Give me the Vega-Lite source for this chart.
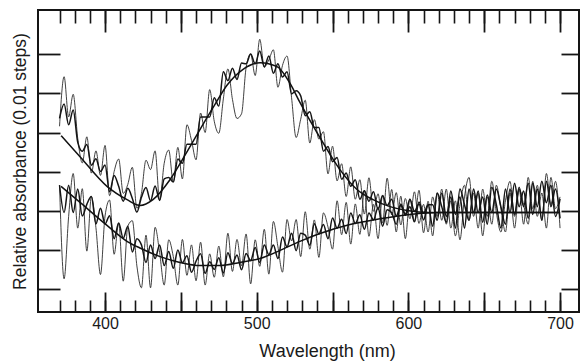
{
  "$schema": "https://vega.github.io/schema/vega-lite/v6.json",
  "width": 541,
  "height": 302,
  "autosize": {"type": "none"},
  "padding": {"left": 38, "top": 10, "right": 2, "bottom": 51},
  "background": "white",
  "config": {
    "view": {"stroke": "#151515", "strokeWidth": 2},
    "axis": {"grid": false, "domain": false, "labelFont": "Liberation Sans", "titleFont": "Liberation Sans", "tickColor": "#151515", "labelColor": "#1a1a1a", "titleColor": "#1a1a1a", "titleFontWeight": "normal"}
  },
  "datasets": {
    "traces": [
      {"x":370,"a":4.36,"b":4.16,"c":2.65,"d":2.65},
      {"x":373,"a":4.73,"b":5.43,"c":1.95,"d":0.25},
      {"x":376,"a":4.20,"b":4.40,"c":2.65,"d":1.85},
      {"x":379,"a":4.58,"b":4.98,"c":1.95,"d":2.95},
      {"x":382,"a":3.75,"b":3.85,"c":2.55,"d":1.55},
      {"x":385,"a":3.52,"b":3.22,"c":1.86,"d":2.56},
      {"x":388,"a":3.69,"b":3.89,"c":2.16,"d":0.96},
      {"x":391,"a":3.16,"b":2.96,"c":2.36,"d":2.36},
      {"x":394,"a":3.33,"b":3.53,"c":1.66,"d":1.56},
      {"x":397,"a":3.00,"b":2.90,"c":2.06,"d":0.36},
      {"x":400,"a":3.17,"b":3.67,"c":1.66,"d":1.86},
      {"x":403,"a":2.48,"b":2.38,"c":1.87,"d":2.27},
      {"x":406,"a":2.90,"b":3.00,"c":1.28,"d":0.88},
      {"x":409,"a":2.62,"b":3.32,"c":1.68,"d":1.68},
      {"x":412,"a":2.24,"b":2.44,"c":1.29,"d":0.19},
      {"x":415,"a":2.57,"b":2.67,"c":1.60,"d":1.60},
      {"x":418,"a":2.31,"b":3.11,"c":0.94,"d":1.74},
      {"x":421,"a":1.96,"b":2.06,"c":1.28,"d":0.58},
      {"x":424,"a":2.34,"b":2.44,"c":1.12,"d":0.02},
      {"x":427,"a":2.59,"b":3.29,"c":0.67,"d":1.37},
      {"x":430,"a":2.25,"b":3.05,"c":1.12,"d":0.02},
      {"x":433,"a":2.63,"b":3.53,"c":0.77,"d":1.57},
      {"x":436,"a":2.26,"b":2.26,"c":1.12,"d":0.92},
      {"x":439,"a":2.81,"b":3.21,"c":0.59,"d":0.09},
      {"x":442,"a":2.85,"b":3.55,"c":0.95,"d":1.25},
      {"x":445,"a":2.73,"b":2.73,"c":0.52,"d":0.82},
      {"x":448,"a":3.32,"b":3.62,"c":0.99,"d":0.09},
      {"x":451,"a":3.21,"b":2.81,"c":0.66,"d":1.26},
      {"x":454,"a":3.70,"b":4.20,"c":0.84,"d":0.34},
      {"x":457,"a":3.70,"b":3.80,"c":0.42,"d":1.12},
      {"x":460,"a":3.70,"b":3.30,"c":0.70,"d":0.20},
      {"x":463,"a":4.40,"b":4.50,"c":0.89,"d":1.19},
      {"x":466,"a":4.40,"b":4.00,"c":0.39,"d":0.09},
      {"x":469,"a":4.40,"b":5.10,"c":0.69,"d":0.89},
      {"x":472,"a":4.89,"b":4.29,"c":0.49,"d":0.29},
      {"x":475,"a":4.68,"b":3.98,"c":0.79,"d":1.09},
      {"x":478,"a":5.56,"b":4.86,"c":0.40,"d":0.30},
      {"x":481,"a":5.33,"b":5.63,"c":0.92,"d":1.42},
      {"x":484,"a":5.65,"b":4.85,"c":0.64,"d":0.44},
      {"x":487,"a":5.36,"b":4.36,"c":0.86,"d":1.26},
      {"x":490,"a":5.78,"b":4.48,"c":0.48,"d":0.58},
      {"x":493,"a":5.76,"b":5.66,"c":0.90,"d":1.40},
      {"x":496,"a":6.01,"b":6.01,"c":0.72,"d":0.12},
      {"x":499,"a":5.76,"b":5.46,"c":1.05,"d":1.25},
      {"x":502,"a":6.09,"b":6.39,"c":0.67,"d":0.57},
      {"x":505,"a":5.68,"b":5.68,"c":1.12,"d":1.52},
      {"x":508,"a":5.96,"b":5.86,"c":0.87,"d":0.37},
      {"x":511,"a":5.52,"b":6.12,"c":1.12,"d":1.72},
      {"x":514,"a":5.76,"b":5.16,"c":0.77,"d":1.07},
      {"x":517,"a":5.42,"b":5.72,"c":1.32,"d":0.42},
      {"x":520,"a":5.56,"b":5.96,"c":1.07,"d":1.77},
      {"x":523,"a":4.99,"b":4.89,"c":1.42,"d":1.22},
      {"x":526,"a":5.07,"b":3.87,"c":0.97,"d":1.77},
      {"x":529,"a":4.94,"b":4.34,"c":1.42,"d":0.82},
      {"x":532,"a":4.43,"b":4.83,"c":1.37,"d":1.97},
      {"x":535,"a":4.53,"b":3.73,"c":1.11,"d":1.01},
      {"x":538,"a":4.13,"b":4.33,"c":1.66,"d":1.76},
      {"x":541,"a":4.13,"b":3.83,"c":1.40,"d":0.80},
      {"x":544,"a":3.52,"b":4.02,"c":1.64,"d":1.94},
      {"x":547,"a":3.64,"b":2.94,"c":1.28,"d":1.58},
      {"x":550,"a":3.25,"b":3.65,"c":1.81,"d":1.01},
      {"x":553,"a":3.36,"b":2.76,"c":1.55,"d":2.25},
      {"x":556,"a":2.80,"b":3.20,"c":1.78,"d":1.38},
      {"x":559,"a":2.96,"b":2.36,"c":1.41,"d":2.21},
      {"x":562,"a":2.62,"b":3.12,"c":1.94,"d":1.14},
      {"x":565,"a":2.79,"b":2.29,"c":1.67,"d":2.17},
      {"x":568,"a":2.29,"b":2.79,"c":1.89,"d":1.39},
      {"x":571,"a":2.51,"b":1.91,"c":1.52,"d":2.52},
      {"x":574,"a":2.24,"b":2.84,"c":1.94,"d":1.34},
      {"x":577,"a":2.48,"b":1.98,"c":1.76,"d":2.16},
      {"x":580,"a":2.03,"b":2.43,"c":2.08,"d":1.28},
      {"x":583,"a":2.38,"b":1.68,"c":1.60,"d":2.40},
      {"x":586,"a":2.13,"b":2.83,"c":2.02,"d":1.62},
      {"x":589,"a":2.29,"b":1.89,"c":1.94,"d":2.54},
      {"x":592,"a":1.86,"b":2.46,"c":1.65,"d":1.45},
      {"x":595,"a":2.13,"b":1.63,"c":2.17,"d":2.37},
      {"x":598,"a":1.91,"b":2.31,"c":1.88,"d":1.28},
      {"x":601,"a":2.29,"b":1.79,"c":2.10,"d":2.30},
      {"x":604,"a":1.98,"b":2.48,"c":1.71,"d":1.71},
      {"x":607,"a":2.17,"b":1.67,"c":2.22,"d":2.52},
      {"x":610,"a":1.76,"b":2.16,"c":1.93,"d":1.43},
      {"x":613,"a":2.15,"b":1.45,"c":2.14,"d":2.24},
      {"x":616,"a":2.15,"b":2.35,"c":1.60,"d":1.35},
      {"x":619,"a":1.75,"b":1.85,"c":2.45,"d":2.45},
      {"x":622,"a":2.45,"b":2.55,"c":2.10,"d":1.75},
      {"x":625,"a":1.85,"b":1.65,"c":1.70,"d":2.55},
      {"x":628,"a":2.35,"b":2.25,"c":2.50,"d":1.55},
      {"x":631,"a":1.55,"b":1.35,"c":1.90,"d":2.25},
      {"x":634,"a":2.55,"b":2.15,"c":2.35,"d":1.25},
      {"x":637,"a":2.15,"b":2.65,"c":1.55,"d":2.35},
      {"x":640,"a":1.75,"b":1.75,"c":2.55,"d":2.85},
      {"x":643,"a":2.55,"b":2.45,"c":1.95,"d":1.85},
      {"x":646,"a":1.95,"b":1.55,"c":2.50,"d":2.45},
      {"x":649,"a":2.35,"b":2.55,"c":1.70,"d":1.35},
      {"x":652,"a":1.65,"b":1.85,"c":2.40,"d":2.35},
      {"x":655,"a":2.60,"b":2.75,"c":1.95,"d":1.65},
      {"x":658,"a":2.15,"b":1.95,"c":2.55,"d":2.65},
      {"x":661,"a":1.55,"b":1.45,"c":2.10,"d":2.05},
      {"x":664,"a":2.55,"b":2.25,"c":1.65,"d":1.45},
      {"x":667,"a":1.95,"b":2.75,"c":2.55,"d":2.45},
      {"x":670,"a":2.70,"b":1.85,"c":1.90,"d":1.55},
      {"x":673,"a":2.10,"b":2.55,"c":2.60,"d":2.55},
      {"x":676,"a":2.50,"b":1.65,"c":2.10,"d":2.15},
      {"x":679,"a":1.80,"b":2.85,"c":2.70,"d":1.65},
      {"x":682,"a":2.70,"b":2.05,"c":1.90,"d":2.75},
      {"x":685,"a":2.10,"b":2.65,"c":2.55,"d":1.85},
      {"x":688,"a":2.75,"b":1.75,"c":1.75,"d":2.45},
      {"x":691,"a":2.20,"b":2.95,"c":2.75,"d":1.55},
      {"x":694,"a":2.65,"b":2.15,"c":2.10,"d":2.85},
      {"x":697,"a":1.85,"b":2.75,"c":2.55,"d":2.05},
      {"x":700,"a":2.30,"b":1.55,"c":1.80,"d":2.35}
    ],
    "fits": [
      {"f":"A","x":371,"v":3.92},{"f":"A","x":383.5,"v":3.38},{"f":"A","x":401.3,"v":2.62},{"f":"A","x":414.5,"v":2.28},
      {"f":"A","x":423.1,"v":2.13},{"f":"A","x":431.6,"v":2.28},{"f":"A","x":442.8,"v":2.79},{"f":"A","x":454.1,"v":3.51},
      {"f":"A","x":464.6,"v":4.21},{"f":"A","x":472.5,"v":4.72},{"f":"A","x":480.4,"v":5.21},{"f":"A","x":491,"v":5.62},
      {"f":"A","x":502.2,"v":5.79},{"f":"A","x":513.4,"v":5.69},{"f":"A","x":522,"v":5.26},{"f":"A","x":528.5,"v":4.77},
      {"f":"A","x":543.7,"v":3.74},{"f":"A","x":554.9,"v":3.05},{"f":"A","x":566.1,"v":2.54},{"f":"A","x":576.7,"v":2.28},
      {"f":"A","x":587.9,"v":2.10},{"f":"A","x":599.1,"v":2.00},{"f":"A","x":614.2,"v":1.95},{"f":"A","x":650,"v":1.95},{"f":"A","x":700,"v":1.95},
      {"f":"B","x":371,"v":2.62},{"f":"B","x":383.5,"v":2.21},{"f":"B","x":401.3,"v":1.62},{"f":"B","x":415,"v":1.20},
      {"f":"B","x":423,"v":1.04},{"f":"B","x":436.3,"v":0.82},{"f":"B","x":449.4,"v":0.67},{"f":"B","x":462.6,"v":0.59},
      {"f":"B","x":475.8,"v":0.59},{"f":"B","x":489,"v":0.67},{"f":"B","x":502.2,"v":0.77},{"f":"B","x":515.4,"v":0.98},
      {"f":"B","x":528.5,"v":1.21},{"f":"B","x":541.7,"v":1.41},{"f":"B","x":561.5,"v":1.64},{"f":"B","x":581.3,"v":1.79},
      {"f":"B","x":601.1,"v":1.90},{"f":"B","x":620.8,"v":1.95},{"f":"B","x":660,"v":1.95},{"f":"B","x":700,"v":1.95}
    ]
  },
  "layer": [
    {
      "data": {"name": "traces"},
      "transform": [{"fold": ["b", "d"]}],
      "mark": {"type": "line", "color": "#2b2b2b", "strokeWidth": 0.9, "interpolate": "monotone"},
      "encoding": {
        "x": {"field": "x", "type": "quantitative", "scale": {"domain": [355.8, 712.5], "nice": false, "zero": false},
          "axis": {"orient": "bottom", "values": [400, 500, 600, 700], "ticks": false, "labelPadding": 16, "labelBaseline": "alphabetic", "labelFontSize": 16, "labelOverlap": false, "labelFlush": false, "format": "d",
            "title": "Wavelength (nm)", "titleFontSize": 18, "titleBaseline": "alphabetic", "titleX": 289, "titleY": 44, "titleAlign": "center"}},
        "y": {"field": "value", "type": "quantitative", "scale": {"domain": [-0.6, 7.14], "nice": false, "zero": false},
          "axis": {"orient": "left", "labels": false, "ticks": false, "title": "Relative absorbance (0.01 steps)", "titleFontSize": 17.5, "titleBaseline": "alphabetic", "titleAngle": -90, "titleX": -13, "titleY": 151, "titleAlign": "center"}},
        "detail": {"field": "key"}
      }
    },
    {
      "data": {"name": "traces"},
      "transform": [{"fold": ["a", "c"]}],
      "mark": {"type": "line", "color": "#151515", "strokeWidth": 1.5, "interpolate": "monotone"},
      "encoding": {
        "x": {"field": "x", "type": "quantitative",
          "axis": {"orient": "bottom", "values": [370,380,390,400,410,420,430,440,450,460,470,480,490,500,510,520,530,540,550,560,570,580,590,600,610,620,630,640,650,660,670,680,690,700], "labels": false, "tickSize": -12, "tickWidth": 1.6, "title": null}},
        "y": {"field": "value", "type": "quantitative",
          "axis": {"orient": "left", "values": [0,1,2,3,4,5,6], "labels": false, "tickSize": -22, "tickWidth": 1.8, "title": null}},
        "detail": {"field": "key"}
      }
    },
    {
      "data": {"name": "fits"},
      "mark": {"type": "line", "color": "#111111", "strokeWidth": 1.5, "interpolate": "monotone"},
      "encoding": {
        "x": {"field": "x", "type": "quantitative",
          "axis": {"orient": "top", "values": [370,380,390,400,410,420,430,440,450,460,470,480,490,500,510,520,530,540,550,560,570,580,590,600,610,620,630,640,650,660,670,680,690,700], "labels": false, "tickSize": -13, "tickWidth": 1.6, "title": null}},
        "y": {"field": "v", "type": "quantitative",
          "axis": {"orient": "right", "values": [0,1,2,3,4,5,6], "labels": false, "tickSize": -18, "tickWidth": 1.8, "title": null}},
        "detail": {"field": "f"}
      }
    },
    {
      "data": {"name": "fits"},
      "mark": {"type": "line", "strokeOpacity": 0},
      "encoding": {
        "x": {"field": "x", "type": "quantitative",
          "axis": {"orient": "bottom", "values": [400,450,500,550,600,650,700], "labels": false, "tickSize": -20, "tickWidth": 1.8, "title": null}},
        "y": {"field": "v", "type": "quantitative", "axis": null},
        "detail": {"field": "f"}
      }
    },
    {
      "data": {"name": "fits"},
      "mark": {"type": "line", "strokeOpacity": 0},
      "encoding": {
        "x": {"field": "x", "type": "quantitative",
          "axis": {"orient": "top", "values": [400,450,500,550,600,650,700], "labels": false, "tickSize": -22, "tickWidth": 1.8, "title": null}},
        "y": {"field": "v", "type": "quantitative", "axis": null},
        "detail": {"field": "f"}
      }
    }
  ],
  "resolve": {"axis": {"x": "independent", "y": "independent"}}
}
